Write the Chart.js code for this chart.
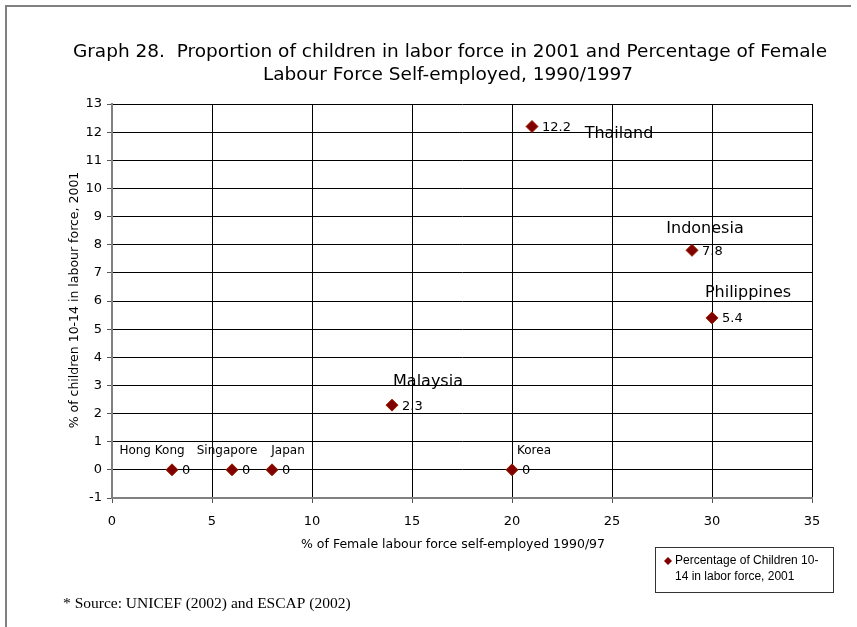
<!DOCTYPE html>
<html>
<head>
<meta charset="utf-8">
<script src="https://cdn.jsdelivr.net/npm/chart.js@4.4.0/dist/chart.umd.min.js"></script>
<style>
  html, body { margin: 0; padding: 0; background: #ffffff; }
  #wrap { width: 857px; height: 627px; position: relative; }
</style>
</head>
<body>
<div id="wrap"><canvas id="c" width="857" height="627"></canvas></div>
<script>
// ---- data ----
const countries = ['Hong Kong', 'Singapore', 'Japan', 'Korea', 'Malaysia', 'Thailand', 'Indonesia', 'Philippines'];
const femaleSelfEmployed = [3, 6, 8, 20, 14, 21, 29, 30];
const childLabour = [0, 0, 0, 0, 2.3, 12.2, 7.8, 5.4];
const seriesName = 'Percentage of Children 10-14 in labor force, 2001';
const legendLines = ['Percentage of Children 10-', '14 in labor force, 2001'];
const titleLines = ['Graph 28.  Proportion of children in labor force in 2001 and Percentage of Female', 'Labour Force Self-employed, 1990/1997'];
const xAxisTitle = '% of Female labour force self-employed 1990/97';
const yAxisTitle = '% of children 10-14 in labour force, 2001';
const sourceNote = '* Source: UNICEF (2002) and ESCAP (2002)';

// ---- styling / placement (not data) ----
const nameStyle = {
  'Hong Kong':   { dx: -20, dy: -19, size: 12 },
  'Singapore':   { dx: -5,  dy: -19, size: 12 },
  'Japan':       { dx: 16,  dy: -19, size: 12 },
  'Korea':       { dx: 22,  dy: -19, size: 12 },
  'Malaysia':    { dx: 36,  dy: -23, size: 16 },
  'Thailand':    { dx: 87,  dy: 7,   size: 16 },
  'Indonesia':   { dx: 13,  dy: -21, size: 16 },
  'Philippines': { dx: 36,  dy: -25, size: 16 }
};
const SANS = '"DejaVu Sans", Verdana, sans-serif';
const CHART = { left: 112, right: 812, top: 104, bottom: 498 };

const points = femaleSelfEmployed.map((x, i) => ({ x: x, y: childLabour[i] }));

const decorPlugin = {
  id: 'decor',
  beforeDraw(chart) {
    const ctx = chart.ctx;
    ctx.save();
    ctx.fillStyle = '#ffffff';
    ctx.fillRect(0, 0, chart.width, chart.height);
    // page frame
    ctx.strokeStyle = '#808080';
    ctx.lineWidth = 2;
    ctx.beginPath();
    ctx.moveTo(6, 627); ctx.lineTo(6, 6); ctx.lineTo(851, 6);
    ctx.stroke();
    ctx.restore();
  },
  afterDraw(chart) {
    const ctx = chart.ctx;
    ctx.save();
    // title
    ctx.fillStyle = '#000';
    ctx.textAlign = 'center';
    ctx.textBaseline = 'middle';
    ctx.font = '18.5px ' + SANS;
    ctx.fillText(titleLines[0], 450, 52);
    ctx.fillText(titleLines[1], 448, 75);
    // axis titles
    ctx.font = '12.5px ' + SANS;
    ctx.fillText(xAxisTitle, 453, 545);
    ctx.save();
    ctx.translate(75, 300);
    ctx.rotate(-Math.PI / 2);
    ctx.fillText(yAxisTitle, 0, 0);
    ctx.restore();
    // data labels and country names
    chart.getDatasetMeta(0).data.forEach((el, i) => {
      const px = el.x, py = el.y;
      ctx.textAlign = 'left';
      ctx.font = '13px ' + SANS;
      ctx.fillText(String(childLabour[i]), px + 10, py + 1);
      const st = nameStyle[countries[i]];
      ctx.textAlign = 'center';
      ctx.font = st.size + 'px ' + SANS;
      ctx.fillText(countries[i], px + st.dx, py + st.dy);
    });
    // legend
    ctx.strokeStyle = '#333';
    ctx.lineWidth = 1;
    ctx.strokeRect(655.5, 547.5, 178, 45);
    ctx.fillStyle = '#800000';
    ctx.beginPath();
    ctx.moveTo(668, 557); ctx.lineTo(672, 561); ctx.lineTo(668, 565); ctx.lineTo(664, 561);
    ctx.closePath(); ctx.fill();
    ctx.fillStyle = '#000';
    ctx.textAlign = 'left';
    ctx.font = '12px "Liberation Sans", Arial, sans-serif';
    ctx.fillText(legendLines[0], 675, 561);
    ctx.fillText(legendLines[1], 675, 577);
    // source
    ctx.font = '15.5px "Liberation Serif", "Times New Roman", serif';
    ctx.fillText(sourceNote, 63, 604);
    ctx.restore();
  }
};

new Chart(document.getElementById('c'), {
  type: 'scatter',
  data: {
    datasets: [{
      label: seriesName,
      data: points,
      pointStyle: 'rectRot',
      pointRadius: 6,
      pointHoverRadius: 6,
      backgroundColor: '#800000',
      borderColor: '#9a2400',
      borderWidth: 1
    }]
  },
  options: {
    responsive: false,
    animation: false,
    devicePixelRatio: 1,
    layout: { padding: { top: CHART.top, right: 857 - CHART.right, left: 0, bottom: 0 } },
    plugins: { legend: { display: false }, title: { display: false }, tooltip: { enabled: false } },
    scales: {
      x: {
        type: 'linear', min: 0, max: 35,
        afterFit(s) { s.height = 627 - CHART.bottom; },
        ticks: { stepSize: 5, color: '#000', font: { family: SANS, size: 13 }, padding: 11 },
        grid: { color: '#000', lineWidth: 1, tickLength: 5, tickColor: '#555' },
        border: { color: '#808080', width: 2 }
      },
      y: {
        type: 'linear', min: -1, max: 13,
        afterFit(s) { s.width = CHART.left; },
        ticks: { stepSize: 1, color: '#000', font: { family: SANS, size: 13 }, padding: 5 },
        grid: { color: '#000', lineWidth: 1, tickLength: 5, tickColor: '#555' },
        border: { color: '#808080', width: 2 }
      }
    }
  },
  plugins: [decorPlugin]
});
</script>
</body>
</html>
